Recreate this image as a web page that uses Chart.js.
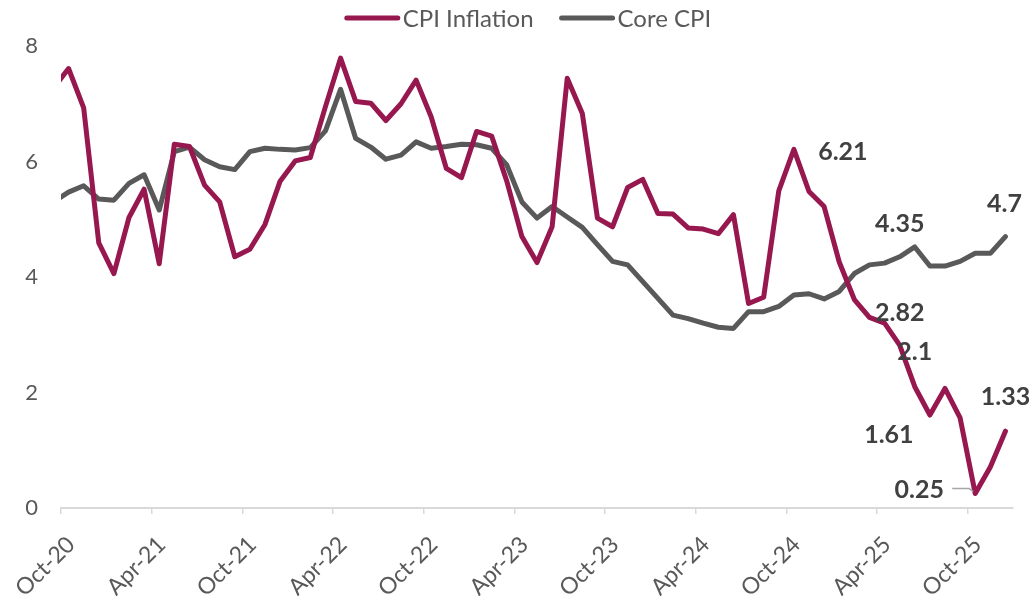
<!DOCTYPE html>
<html>
<head>
<meta charset="utf-8">
<script src="https://cdn.jsdelivr.net/npm/chart.js@4.4.1/dist/chart.umd.min.js"></script>
<style>
  html, body { margin: 0; padding: 0; background: #fff; }
  #chart { display: block; }
</style>
</head>
<body>
<canvas id="chart" width="1036" height="596"></canvas>
<script>
// monthly readings, Sep-20 .. Dec-25 (Sep-20 sits just left of the axis and gets clipped)
const months = [
  'Sep-20', 'Oct-20', 'Nov-20', 'Dec-20',
  'Jan-21', 'Feb-21', 'Mar-21', 'Apr-21', 'May-21', 'Jun-21', 'Jul-21', 'Aug-21', 'Sep-21', 'Oct-21', 'Nov-21', 'Dec-21',
  'Jan-22', 'Feb-22', 'Mar-22', 'Apr-22', 'May-22', 'Jun-22', 'Jul-22', 'Aug-22', 'Sep-22', 'Oct-22', 'Nov-22', 'Dec-22',
  'Jan-23', 'Feb-23', 'Mar-23', 'Apr-23', 'May-23', 'Jun-23', 'Jul-23', 'Aug-23', 'Sep-23', 'Oct-23', 'Nov-23', 'Dec-23',
  'Jan-24', 'Feb-24', 'Mar-24', 'Apr-24', 'May-24', 'Jun-24', 'Jul-24', 'Aug-24', 'Sep-24', 'Oct-24', 'Nov-24', 'Dec-24',
  'Jan-25', 'Feb-25', 'Mar-25', 'Apr-25', 'May-25', 'Jun-25', 'Jul-25', 'Aug-25', 'Sep-25', 'Oct-25', 'Nov-25', 'Dec-25'
];

const cpiInflation = [
  7.27, 7.61, 6.93, 4.59,
  4.06, 5.03, 5.52, 4.23, 6.30, 6.26, 5.59, 5.30, 4.35, 4.48, 4.91, 5.66,
  6.01, 6.07, 6.95, 7.79, 7.04, 7.01, 6.71, 7.00, 7.41, 6.77, 5.88, 5.72,
  6.52, 6.44, 5.66, 4.70, 4.25, 4.87, 7.44, 6.83, 5.02, 4.87, 5.55, 5.69,
  5.10, 5.09, 4.85, 4.83, 4.75, 5.08, 3.54, 3.65, 5.49, 6.21, 5.48, 5.22,
  4.26, 3.61, 3.30, 3.20, 2.82, 2.10, 1.61, 2.07, 1.56, 0.25, 0.71, 1.33
];

const coreCpi = [
  5.30, 5.47, 5.58, 5.35,
  5.33, 5.62, 5.77, 5.16, 6.17, 6.25, 6.03, 5.91, 5.86, 6.17, 6.23, 6.21,
  6.20, 6.24, 6.53, 7.25, 6.40, 6.25, 6.04, 6.11, 6.34, 6.23, 6.26, 6.30,
  6.29, 6.23, 5.94, 5.30, 5.02, 5.22, 5.04, 4.86, 4.56, 4.27, 4.21, 3.92,
  3.63, 3.34, 3.28, 3.20, 3.13, 3.11, 3.40, 3.40, 3.49, 3.69, 3.71, 3.62,
  3.75, 4.06, 4.21, 4.24, 4.35, 4.52, 4.19, 4.19, 4.27, 4.41, 4.41, 4.70
];

const tickLabels = ['Oct-20', 'Apr-21', 'Oct-21', 'Apr-22', 'Oct-22', 'Apr-23',
                    'Oct-23', 'Apr-24', 'Oct-24', 'Apr-25', 'Oct-25'];

// points that carry a value label
const cpiCallouts  = ['Oct-24', 'May-25', 'Jun-25', 'Jul-25', 'Oct-25', 'Dec-25'];
const coreCallouts = ['May-25', 'Dec-25'];

const CPI_COLOR  = '#97174f';
const CORE_COLOR = '#595959';
const TEXT_COLOR = '#595959';
const FONT = 'Lato';

// x position = month index, centred in its month (Oct-20 spans 0..1)
const toPoints = vals => months.map((m, i) => ({ x: i - 0.5, y: vals[i] }));

/* ─── custom legend (line swatches) ─────────────── */
const lineLegend = {
  id: 'lineLegend',
  afterDraw(chart) {
    const { ctx } = chart;
    const swatch = 55, gap = 3, between = 26, y = 18;
    ctx.save();
    ctx.font = `24px ${FONT}`;
    const items = chart.data.datasets.map(ds => ({
      text: ds.label, color: ds.borderColor, w: swatch + gap + ctx.measureText(ds.label).width
    }));
    const total = items.reduce((s, it) => s + it.w, 0) + between * (items.length - 1);
    let x = chart.width / 2 + 10 - total / 2;
    items.forEach(it => {
      ctx.strokeStyle = it.color;
      ctx.lineWidth = 5;
      ctx.lineCap = 'round';
      ctx.beginPath();
      ctx.moveTo(x + 2, y);
      ctx.lineTo(x + swatch - 2, y);
      ctx.stroke();
      ctx.fillStyle = TEXT_COLOR;
      ctx.textBaseline = 'middle';
      ctx.textAlign = 'left';
      ctx.fillText(it.text, x + swatch + gap, y + 1);
      x += it.w + between;
    });
    ctx.restore();
  }
};

/* ─── value labels ─────────────── */
const CALLOUT_OFFSETS = {
  '0:Oct-24': [49, 3],
  '0:May-25': [0, -32],
  '0:Jun-25': [0, -35],
  '0:Jul-25': [-41, 20],
  '0:Oct-25': [-56, -4],
  '0:Dec-25': [0, -34],
  '1:May-25': [0, -33],
  '1:Dec-25': [-1, -33]
};

const callouts = {
  id: 'callouts',
  afterDatasetsDraw(chart) {
    const { ctx } = chart;
    const sets = [cpiCallouts, coreCallouts];
    ctx.save();
    ctx.font = `bold 25px ${FONT}`;
    ctx.fillStyle = '#404040';
    ctx.textAlign = 'center';
    ctx.textBaseline = 'middle';
    sets.forEach((list, di) => {
      const meta = chart.getDatasetMeta(di);
      const vals = chart.data.datasets[di].data;
      list.forEach(m => {
        const idx = months.indexOf(m);
        const pt = meta.data[idx];
        const [dx, dy] = CALLOUT_OFFSETS[di + ':' + m];
        const tx = pt.x + dx, ty = pt.y + dy;
        ctx.fillText(String(vals[idx].y), tx, ty);
        if (di === 0 && m === 'Oct-25') {
          // leader line from label to point
          ctx.strokeStyle = '#a6a6a6';
          ctx.lineWidth = 1.5;
          ctx.beginPath();
          ctx.moveTo(tx + 33, ty - 1);
          ctx.lineTo(pt.x - 6, ty - 1);
          ctx.lineTo(pt.x - 2, pt.y - 2);
          ctx.stroke();
        }
      });
    });
    ctx.restore();
  }
};

new Chart(document.getElementById('chart'), {
  type: 'line',
  data: {
    datasets: [
      {
        label: 'CPI Inflation',
        data: toPoints(cpiInflation),
        borderColor: CPI_COLOR,
        backgroundColor: CPI_COLOR,
        borderWidth: 5,
        borderJoinStyle: 'round',
        borderCapStyle: 'round',
        pointRadius: 0,
        tension: 0,
      },
      {
        label: 'Core CPI',
        data: toPoints(coreCpi),
        borderColor: CORE_COLOR,
        backgroundColor: CORE_COLOR,
        borderWidth: 5,
        borderJoinStyle: 'round',
        borderCapStyle: 'round',
        pointRadius: 0,
        tension: 0,
      }
    ]
  },
  options: {
    responsive: false,
    animation: false,
    layout: { padding: { top: 46, right: 23, left: 0, bottom: 0 } },
    plugins: {
      legend: { display: false },
      tooltip: { enabled: false },
    },
    scales: {
      x: {
        type: 'linear',
        min: 0,
        max: 63,
        ticks: {
          stepSize: 6,
          includeBounds: false,
          autoSkip: false,
          minRotation: 45,
          maxRotation: 45,
          color: TEXT_COLOR,
          font: { family: FONT, size: 23 },
          padding: 17,
          labelOffset: 10,
          callback: v => tickLabels[v / 6],
        },
        grid: { drawOnChartArea: false, drawTicks: true, tickLength: 6, color: '#d9d9d9', lineWidth: 1.5 },
        border: { color: '#d9d9d9', width: 2 },
        // fixed axis band; rotated labels may hang into the left margin
        afterFit: s => { s.height = 88; s.paddingLeft = 0; s.paddingRight = 0; },
      },
      y: {
        min: 0,
        max: 8,
        ticks: {
          stepSize: 2,
          color: TEXT_COLOR,
          font: { family: FONT, size: 22 },
          padding: 23,
        },
        grid: { display: false, drawTicks: false },
        border: { display: false },
        afterFit: s => { s.width = 61; },
      }
    }
  },
  plugins: [lineLegend, callouts]
});
</script>
</body>
</html>
